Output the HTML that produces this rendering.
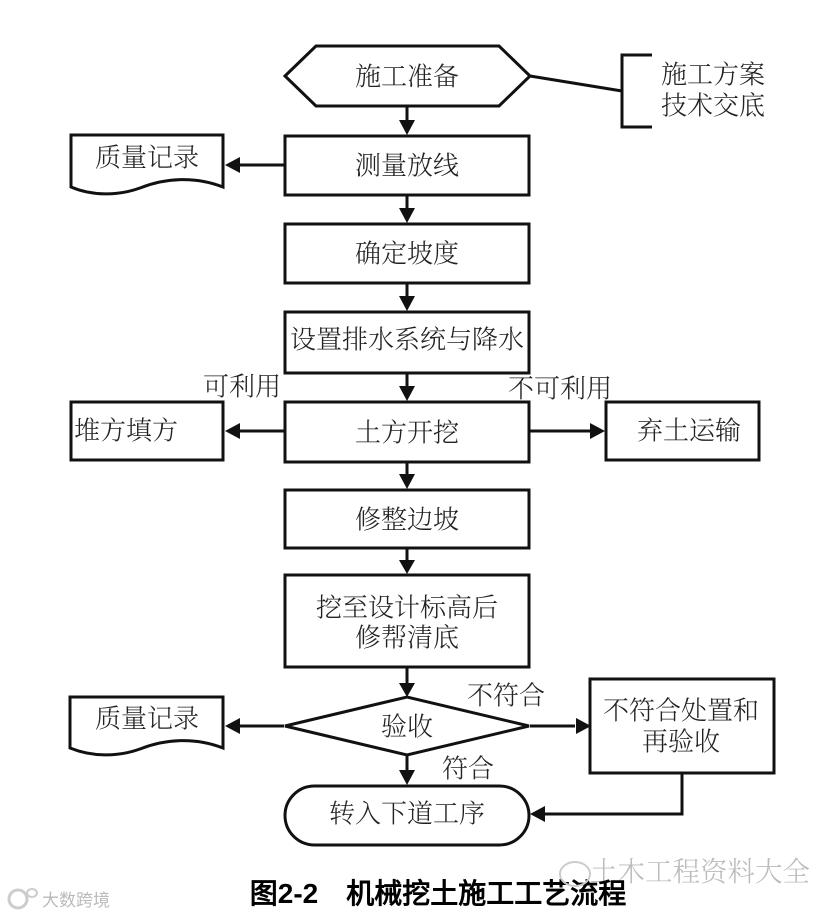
<!DOCTYPE html>
<html>
<head>
<meta charset="utf-8">
<style>
html,body{margin:0;padding:0;background:#fff;width:840px;height:916px;overflow:hidden}
svg{display:block}
text{font-family:"Liberation Serif","Noto Serif CJK SC",serif;fill:#222;font-size:26px;text-anchor:middle;font-weight:300}
.s{fill:none;stroke:#111;stroke-width:3}
.w{fill:#fff;stroke:#111;stroke-width:3}
.a{fill:#111;stroke:none}
</style>
</head>
<body>
<svg width="840" height="916" viewBox="0 0 840 916" xmlns="http://www.w3.org/2000/svg">
<rect width="840" height="916" fill="#fff"/>
<!-- connectors -->
<path class="s" d="M407 106V125M407 194V211M407 283V301M407 373V391M407 462V478M407 548V563M407 667V685M407 755V773"/>
<path class="s" d="M284 165H240M284 431H240M530 431H590M284 726H240M530 726H575M682 774V814H545"/>
<path class="s" d="M530 76L622 91"/>
<path class="s" d="M652 55H622V127H652"/>
<!-- arrowheads -->
<path class="a" d="M399 120H415L407 135ZM399 208H415L407 223ZM399 296H415L407 311ZM399 386H415L407 401ZM399 474H415L407 489ZM399 560H415L407 574ZM399 683H415L407 697ZM399 770H415L407 785Z"/>
<path class="a" d="M225 165L240 157V173ZM225 431L240 423V439ZM225 726L240 718V734ZM605 431L590 423V439ZM591 726L576 718V734ZM530 814L545 806V822Z"/>
<!-- shapes -->
<path class="w" d="M285 76L316 46H499L530 76L499 106H316Z"/>
<rect class="w" x="285" y="136" width="244" height="59"/>
<rect class="w" x="285" y="224" width="244" height="59"/>
<rect class="w" x="285" y="312" width="244" height="61"/>
<rect class="w" x="285" y="402" width="244" height="60"/>
<rect class="w" x="285" y="490" width="244" height="58"/>
<rect class="w" x="285" y="575" width="244" height="92"/>
<path class="w" d="M285 726L407 697L529 726L407 755Z"/>
<rect class="w" x="285" y="786" width="244" height="59" rx="29.5"/>
<rect class="w" x="71" y="402" width="152" height="58"/>
<rect class="w" x="606" y="402" width="153" height="58"/>
<rect class="w" x="590" y="679" width="184" height="94"/>
<path class="w" d="M71 135H223V187C195 176 165 178 140 188C118 196 92 196 71 187Z"/>
<path class="w" d="M70 697H223V748C195 737 165 739 140 749C118 757 92 757 70 748Z"/>
<!-- labels -->
<g transform="translate(0,1.5)">
<text x="407" y="84">施工准备</text>
<text x="713" y="82">施工方案</text>
<text x="713" y="113">技术交底</text>
<text x="147" y="165">质量记录</text>
<text x="407" y="173">测量放线</text>
<text x="407" y="261">确定坡度</text>
<text x="407" y="347">设置排水系统与降水</text>
<text x="242" y="394">可利用</text>
<text x="560" y="396">不可利用</text>
<text x="126" y="438">堆方填方</text>
<text x="407" y="440">土方开挖</text>
<text x="689" y="438">弃土运输</text>
<text x="407" y="527">修整边坡</text>
<text x="407" y="615">挖至设计标高后</text>
<text x="407" y="645">修帮清底</text>
<text x="506" y="703">不符合</text>
<text x="147" y="726">质量记录</text>
<text x="407" y="734">验收</text>
<text x="681" y="718">不符合处置和</text>
<text x="681" y="749">再验收</text>
<text x="468" y="776">符合</text>
<text x="407" y="821">转入下道工序</text>
</g>
<text x="700" y="881" style="font-size:27.5px;fill:#bbb">土木工程资料大全</text>
<text x="438" y="903" style="font-family:'Liberation Sans','WenQuanYi Zen Hei',sans-serif;font-size:28px;fill:#000;font-weight:bold">图2-2　机械挖土施工工艺流程</text>
<text x="76" y="906" style="font-family:'Liberation Sans','WenQuanYi Zen Hei',sans-serif;font-size:17px;fill:#bbb">大数跨境</text>
<ellipse cx="575" cy="874" rx="15" ry="12" fill="none" stroke="#ccc" stroke-width="2"/>
<ellipse cx="18" cy="899" rx="9" ry="9" fill="none" stroke="#ccc" stroke-width="3"/>
<ellipse cx="32" cy="893" rx="5" ry="4" fill="none" stroke="#ccc" stroke-width="2"/>
</svg>
</body>
</html>
